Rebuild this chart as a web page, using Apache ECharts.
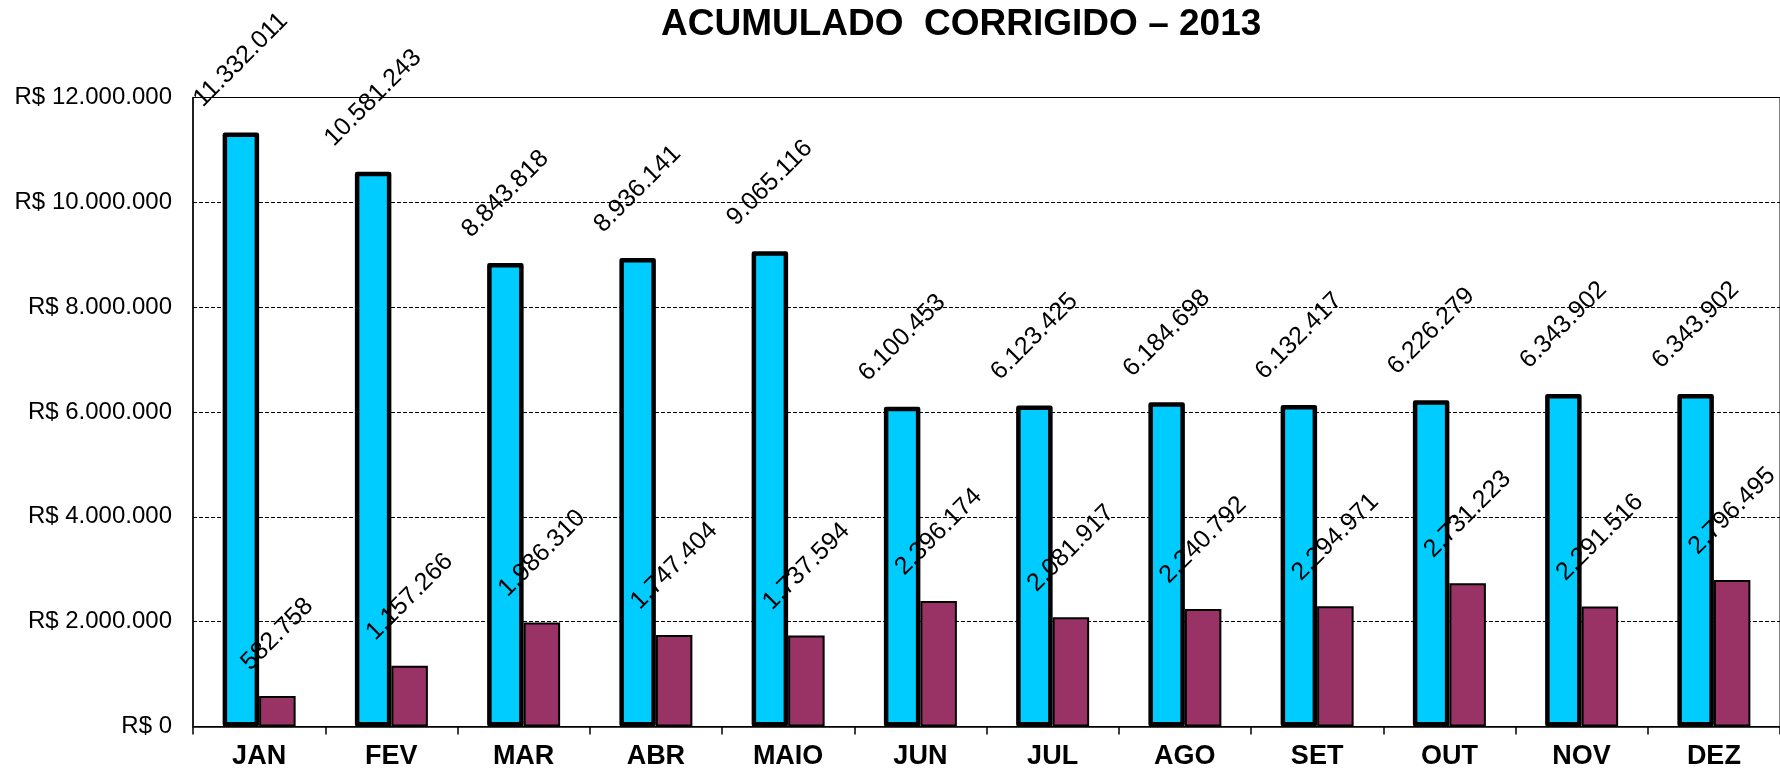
<!DOCTYPE html>
<html><head><meta charset="utf-8">
<script src="https://cdn.jsdelivr.net/npm/echarts@6/dist/echarts.min.js"></script>
<style>html,body{margin:0;padding:0;background:#fff}#c{width:1780px;height:773px}</style>
</head><body><div id="c"></div>
<script>
const months = ['JAN','FEV','MAR','ABR','MAIO','JUN','JUL','AGO','SET','OUT','NOV','DEZ'];
const acumulado = [11332011,10581243,8843818,8936141,9065116,6100453,6123425,6184698,6132417,6226279,6343902,6343902];
const corrigido = [582758,1157266,1986310,1747404,1737594,2396174,2081917,2240792,2294971,2731223,2291516,2796495];
const yMin = 0, yMax = 12000000, yStep = 2000000;
const titleText = 'ACUMULADO  CORRIGIDO \u2013 2013';

const FONT = "'Liberation Sans', Arial, sans-serif";
const LABEL_SIZE = 25;
const fmt = v => String(Math.round(v)).replace(/\B(?=(\d{3})+(?!\d))/g, '.');
const ctx = document.createElement('canvas').getContext('2d');
ctx.font = LABEL_SIZE + "px 'Liberation Sans'";
const dist = s => 24 + (ctx.measureText(s).width + 16) * 0.3535;
const toItems = arr => arr.map(v => ({ value: v, label: { distance: dist(fmt(v)) } }));

const labelCommon = {
  show: true, position: 'top', rotate: 45, align: 'center', verticalAlign: 'middle',
  color: '#000', fontFamily: FONT, fontSize: LABEL_SIZE,
  formatter: p => fmt(p.value)
};

const chart = echarts.init(document.getElementById('c'), null, { renderer: 'canvas' });
chart.setOption({
  animation: false,
  backgroundColor: '#fff',
  title: {
    text: titleText, left: 656, top: 1,
    textStyle: { fontFamily: FONT, fontSize: 37, fontWeight: 'bold', color: '#000' }
  },
  grid: { left: 193, right: 0, top: 97.5, bottom: 46.5, show: true, borderColor: '#000', borderWidth: 1 },
  xAxis: {
    type: 'category', data: months,
    axisLine: { show: true, lineStyle: { color: '#000', width: 1.5 } },
    axisTick: { show: true, length: 8, lineStyle: { color: '#000', width: 1.5 } },
    axisLabel: { margin: 17, color: '#000', fontFamily: FONT, fontSize: 27, fontWeight: 'bold' },
    splitLine: { show: false }
  },
  yAxis: {
    type: 'value', min: yMin, max: yMax, interval: yStep,
    axisLine: { show: true, lineStyle: { color: '#000', width: 1.5 } },
    axisTick: { show: false },
    axisLabel: { margin: 21, color: '#000', fontFamily: FONT, fontSize: 24, formatter: v => 'R$ ' + fmt(v) },
    splitLine: { show: true, lineStyle: { color: '#000', width: 1, type: [4, 2] } }
  },
  series: [
    {
      name: 'Acumulado', type: 'bar', data: toItems(acumulado), barWidth: 36.5, barGap: '0%',
      itemStyle: { color: '#00CCFF', borderColor: '#000', borderWidth: 4.5, borderJoin: 'round' },
      label: labelCommon
    },
    {
      name: 'Corrigido', type: 'bar', data: toItems(corrigido), barWidth: 36.5, barGap: '0%',
      itemStyle: { color: '#993366', borderColor: '#000', borderWidth: 2 },
      label: labelCommon
    }
  ]
});
</script></body></html>
